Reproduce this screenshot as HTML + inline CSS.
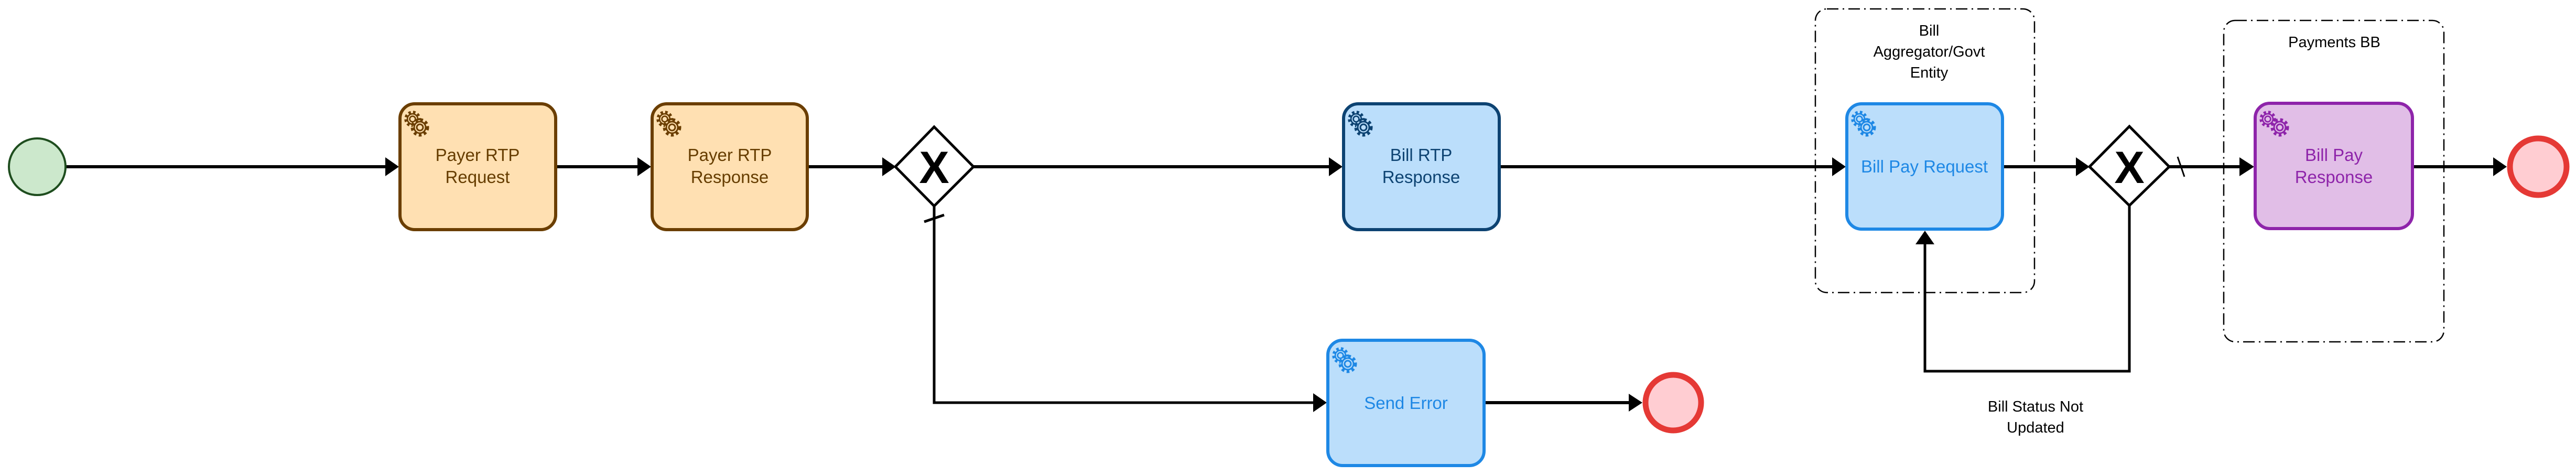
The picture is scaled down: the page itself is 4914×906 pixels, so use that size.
<!DOCTYPE html>
<html><head><meta charset="utf-8"><style>
html,body{margin:0;padding:0;background:#fff;}
svg{display:block;}
text{font-family:"Liberation Sans",Arial,sans-serif;}
</style></head><body>
<svg width="4914" height="906" viewBox="0 0 4914 906" xmlns="http://www.w3.org/2000/svg">
<defs>
<g id="gear">
  <circle cx="0" cy="0" r="14" fill="none" stroke-width="7" stroke-dasharray="5 4.5"/>
  <circle cx="0" cy="0" r="11" fill="none" stroke-width="3"/>
  <circle cx="0" cy="0" r="6" fill="none" stroke-width="3"/>
</g>
</defs>

<!-- groups -->
<rect x="3463" y="17" width="418" height="541" rx="22" fill="none" stroke="#000" stroke-width="2.5" stroke-dasharray="22 8 3 8"/>
<rect x="4242" y="39" width="420" height="613" rx="22" fill="none" stroke="#000" stroke-width="2.5" stroke-dasharray="22 8 3 8"/>
<text x="3680" y="68" font-size="29" text-anchor="middle">Bill</text>
<text x="3680" y="108" font-size="29" text-anchor="middle">Aggregator/Govt</text>
<text x="3680" y="148" font-size="29" text-anchor="middle">Entity</text>
<text x="4453" y="90" font-size="29" text-anchor="middle">Payments BB</text>

<!-- connectors -->
<g stroke="#000" stroke-width="6" fill="none">
  <line x1="126" y1="318" x2="738" y2="318"/>
  <line x1="1062" y1="318" x2="1219" y2="318"/>
  <line x1="1542" y1="318" x2="1686" y2="318"/>
  <line x1="1857" y1="318" x2="2538" y2="318"/>
  <line x1="2862" y1="318" x2="3498" y2="318"/>
  <line x1="3822" y1="318" x2="3966" y2="318"/>
  <line x1="4138" y1="318" x2="4276" y2="318"/>
  <line x1="4604" y1="318" x2="4760" y2="318"/>
  <line x1="2833" y1="768" x2="3110" y2="768"/>
</g>
<g stroke="#000" stroke-width="5" fill="none">
  <polyline points="1782,393 1782,768 2508,768"/>
  <polyline points="4062,392 4062,708 3672,708 3672,462"/>
  <line x1="1763" y1="423" x2="1801" y2="410"/>
  <line x1="4154" y1="299" x2="4167" y2="337" stroke-width="3"/>
</g>
<g fill="#000">
  <polygon points="761,318 735,300 735,336"/>
  <polygon points="1242,318 1216,300 1216,336"/>
  <polygon points="1709,318 1683,300 1683,336"/>
  <polygon points="2561,318 2535,300 2535,336"/>
  <polygon points="3521,318 3495,300 3495,336"/>
  <polygon points="3986,318 3960,300 3960,336"/>
  <polygon points="4300,318 4272,300 4272,336"/>
  <polygon points="4782,318 4756,300 4756,336"/>
  <polygon points="3133,768 3107,751 3107,785"/>
  <polygon points="2531,768 2505,750 2505,786"/>
  <polygon points="3672,440 3654,466 3690,466"/>
</g>

<!-- start -->
<circle cx="71" cy="318" r="54" fill="#cce8cc" stroke="#1e4d1e" stroke-width="4"/>

<!-- tasks -->
<g stroke-width="6">
<rect x="763" y="198" width="297" height="240" rx="28" fill="#ffe0b2" stroke="#6b3e00"/>
<rect x="1244" y="198" width="296" height="240" rx="28" fill="#ffe0b2" stroke="#6b3e00"/>
<rect x="2563" y="198" width="297" height="240" rx="28" fill="#bbdefb" stroke="#0d4372"/>
<rect x="2533" y="649" width="298" height="239" rx="28" fill="#bbdefb" stroke="#1e88e5"/>
<rect x="3523" y="198" width="297" height="239" rx="28" fill="#bbdefb" stroke="#1e88e5"/>
<rect x="4302" y="197" width="300" height="239" rx="28" fill="#e1bee7" stroke="#8e24aa"/>
</g>

<!-- gears -->
<g transform="translate(787,227) scale(0.9)" stroke="#6b3e00"><use href="#gear"/></g>
<g transform="translate(801,243)" stroke="#6b3e00"><circle r="14" fill="#ffe0b2" stroke="none"/><use href="#gear"/></g>
<g transform="translate(1268,227) scale(0.9)" stroke="#6b3e00"><use href="#gear"/></g>
<g transform="translate(1282,243)" stroke="#6b3e00"><circle r="14" fill="#ffe0b2" stroke="none"/><use href="#gear"/></g>
<g transform="translate(2587,227) scale(0.9)" stroke="#0d4372"><use href="#gear"/></g>
<g transform="translate(2601,243)" stroke="#0d4372"><circle r="14" fill="#bbdefb" stroke="none"/><use href="#gear"/></g>
<g transform="translate(2557,678) scale(0.9)" stroke="#1e88e5"><use href="#gear"/></g>
<g transform="translate(2571,694)" stroke="#1e88e5"><circle r="14" fill="#bbdefb" stroke="none"/><use href="#gear"/></g>
<g transform="translate(3547,227) scale(0.9)" stroke="#1e88e5"><use href="#gear"/></g>
<g transform="translate(3561,243)" stroke="#1e88e5"><circle r="14" fill="#bbdefb" stroke="none"/><use href="#gear"/></g>
<g transform="translate(4326,227) scale(0.9)" stroke="#8e24aa"><use href="#gear"/></g>
<g transform="translate(4349,243)" stroke="#8e24aa"><circle r="14" fill="#e1bee7" stroke="none"/><use href="#gear"/></g>

<!-- task labels -->
<g font-size="33" text-anchor="middle">
<text x="911" y="307" fill="#663d00">Payer RTP</text>
<text x="911" y="349" fill="#663d00">Request</text>
<text x="1392" y="307" fill="#663d00">Payer RTP</text>
<text x="1392" y="349" fill="#663d00">Response</text>
<text x="2711" y="307" fill="#0d4372">Bill RTP</text>
<text x="2711" y="349" fill="#0d4372">Response</text>
<text x="2682" y="780" fill="#1e88e5">Send Error</text>
<text x="3671" y="329" fill="#1e88e5">Bill Pay Request</text>
<text x="4452" y="307" fill="#8e24aa">Bill Pay</text>
<text x="4452" y="349" fill="#8e24aa">Response</text>
</g>

<!-- gateways -->
<g fill="#fff" stroke="#000" stroke-width="5">
<polygon points="1782,242 1857,318 1782,393 1708,318"/>
<polygon points="4062,241 4138,318 4062,392 3986,318"/>
</g>
<g font-size="86" font-weight="bold" text-anchor="middle">
<text x="1782" y="349">X</text>
<text x="4062" y="349">X</text>
</g>

<!-- end events -->
<circle cx="3192" cy="768" r="53" fill="#ffcdd2" stroke="#e53935" stroke-width="11"/>
<circle cx="4842" cy="318" r="54" fill="#ffcdd2" stroke="#e53935" stroke-width="11"/>

<text x="3883" y="785" font-size="29" text-anchor="middle">Bill Status Not</text>
<text x="3883" y="825" font-size="29" text-anchor="middle">Updated</text>
</svg>
</body></html>
